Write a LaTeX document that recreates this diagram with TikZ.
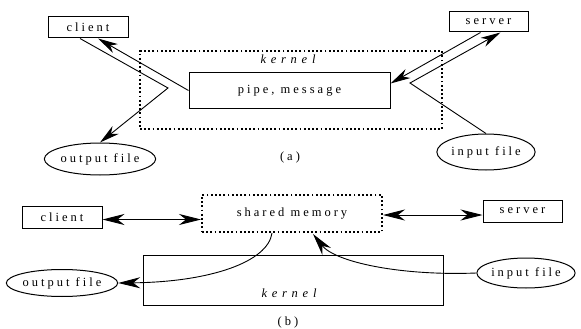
\documentclass[tikz,border=0pt]{standalone}
\usepackage{fontspec}
\setmainfont{Liberation Serif}[LetterSpace=24]
\usetikzlibrary{arrows.meta,calc,shapes.geometric}
\tikzset{
  x=1pt, y=-1pt,
  every node/.style={font=\fontsize{12.5}{14}\selectfont, inner sep=0pt},
  plainbox/.style={draw, line width=1pt, rectangle},
  dotbox/.style={draw, line width=2pt, rectangle, dash pattern=on 1.8pt off 2.4pt},
  fileoval/.style={draw, line width=1pt, ellipse},
  italabel/.style={font=\fontsize{12.5}{14}\selectfont\itshape\addfontfeatures{LetterSpace=38}},
  link/.style={line width=0.9pt},
  tipA/.style={link, -{Stealth[length=20pt,width=10pt,inset=6pt]}},
  tipB/.style={link, -{Stealth[length=22pt,width=11pt,inset=7pt]}},
  tipBB/.style={link, {Stealth[length=22pt,width=11pt,inset=7pt]}-{Stealth[length=22pt,width=11pt,inset=7pt]}},
}
\begin{document}
\begin{tikzpicture}
\useasboundingbox (0,0) rectangle (581,329);

% ---------- (a) message passing through the kernel ----------
\node[dotbox, minimum width=302pt, minimum height=78pt] (kernA) at (291,90) {};
\node[italabel] (kernAlab) at (288,59) {kernel};
\node[plainbox, minimum width=201pt, minimum height=35pt, fill=white] (pipe) at (289.5,90.5) {pipe, message};
\node[plainbox, minimum width=80pt, minimum height=21pt] (clientA) at (88,27.5) {client};
\node[plainbox, minimum width=79pt, minimum height=20pt] (serverA) at (488.5,22) {server};
\node[fileoval, minimum width=100pt, minimum height=32pt] (outA) at (100,159) {output file};
\node[fileoval, minimum width=92pt, minimum height=36pt] (inA) at (486,152) {input file};
\node (capA) at (290,157) {(a)};

\coordinate (vA1) at (168,88);
\coordinate (vA2) at (410,83);

\draw[tipA] (pipe.west) -- ([xshift=10pt]clientA.south);
\draw[tipA] ([xshift=-8pt]clientA.south) -- (vA1) -- (outA.north);
\draw[tipA] ([xshift=-8pt]serverA.south) -- ([yshift=7pt]pipe.east);
\draw[tipA] (inA.north) -- (vA2) -- ([xshift=12pt]serverA.south);

% ---------- (b) shared memory ----------
\node[plainbox, minimum width=300pt, minimum height=50pt] (kernB) at (293,280) {};
\node[italabel] (kernBlab) at (289,293) {kernel};
\node[dotbox, minimum width=180pt, minimum height=37pt] (shared) at (292,213.5) {shared memory};
\node[plainbox, minimum width=80pt, minimum height=22pt] (clientB) at (62,217.5) {client};
\node[plainbox, minimum width=79pt, minimum height=22pt] (serverB) at (522.5,211) {server};
\node[fileoval, minimum width=99pt, minimum height=27pt] (outB) at (62,283) {output file};
\node[fileoval, minimum width=86pt, minimum height=30pt] (inB) at (526,273) {input file};
\node (capB) at (288,322) {(b)};

\draw[tipBB] ([yshift=-2pt]clientB.east) -- ([yshift=-2pt]shared.west |- clientB.east);
\draw[tipBB] ([yshift=-1.5pt]shared.east) -- ([yshift=-1.5pt]serverB.west |- shared.east);

\coordinate (shOut) at ([xshift=-20pt]shared.south);
\coordinate (shIn) at ([xshift=21pt,yshift=-1pt]shared.south);
\draw[tipB] (shOut) .. controls (268,262) and (210,282) .. (outB.east);
\draw[tipB] (inB.west) .. controls (400,276) and (335,262) .. (shIn);
\end{tikzpicture}
\end{document}
